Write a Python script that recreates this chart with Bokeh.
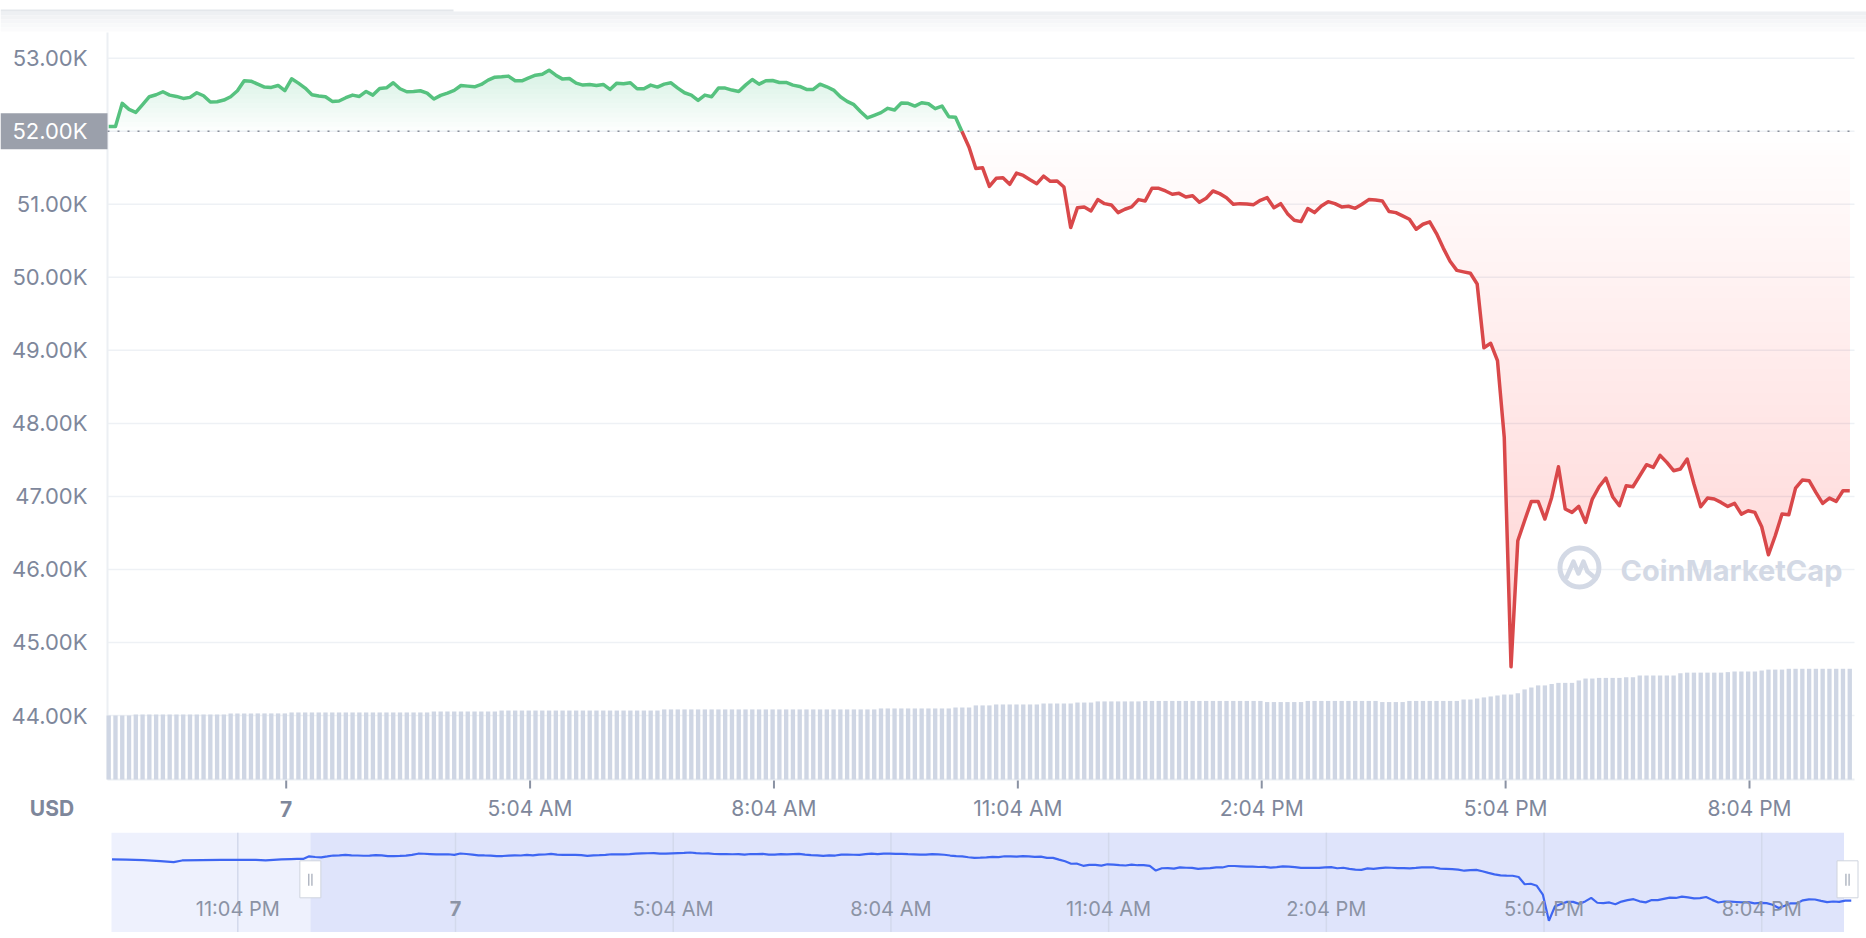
import numpy as np
import pandas as pd
from bokeh.plotting import figure
from bokeh.models import Range1d
from bokeh.layouts import column
from bokeh.embed import file_html
from bokeh.resources import INLINE
from bokeh.core.properties import value

# ---------------- data ----------------
start_time = "2021-09-06 23:53"          # first 5-minute sample
baseline_price = 52000                   # opening price (dotted line)

prices = [
    52064, 52064, 52382, 52300, 52259, 52364, 52473, 52500, 52541, 52495,
    52477, 52450, 52464, 52527, 52486, 52400, 52405, 52427, 52473, 52555,
    52691, 52686, 52645, 52605, 52600, 52627, 52555, 52718, 52659, 52591,
    52500, 52482, 52473, 52409, 52414, 52459, 52495, 52477, 52545, 52495,
    52586, 52595, 52664, 52582, 52541, 52545, 52555, 52523, 52441, 52491,
    52523, 52559, 52627, 52618, 52609, 52641, 52700, 52741, 52745, 52755,
    52691, 52691, 52732, 52768, 52782, 52836, 52768, 52714, 52723, 52659,
    52632, 52641, 52627, 52641, 52573, 52659, 52650, 52664, 52582, 52582,
    52632, 52605, 52645, 52664, 52591, 52527, 52495, 52423, 52495, 52473,
    52591, 52591, 52564, 52545, 52632, 52709, 52645, 52691, 52695, 52668,
    52668, 52632, 52614, 52573, 52573, 52645, 52609, 52564, 52473, 52409,
    52364, 52268, 52182, 52218, 52255, 52314, 52291, 52386, 52382, 52345,
    52391, 52377, 52309, 52345, 52200, 52191, 51986, 51782, 51491, 51500,
    51246, 51355, 51364, 51273, 51427, 51395, 51336, 51282, 51386, 51314,
    51319, 51237, 50681, 50954, 50964, 50909, 51064, 51009, 50991, 50886,
    50932, 50964, 51064, 51046, 51219, 51219, 51182, 51137, 51150, 51100,
    51118, 51027, 51082, 51182, 51146, 51091, 51000, 51009, 51005, 50995,
    51055, 51091, 50954, 51009, 50872, 50781, 50763, 50941, 50886, 50977,
    51036, 51009, 50964, 50973, 50945, 51000, 51064, 51059, 51046, 50900,
    50886, 50841, 50795, 50658, 50727, 50759, 50599, 50400, 50220, 50095,
    50074, 50055, 49908, 49036, 49096, 48858, 47808, 44667, 46393, 46667,
    46932, 46932, 46690, 46986, 47406, 46827, 46781, 46863, 46644, 46964,
    47132, 47251, 46996, 46872, 47146, 47132, 47283, 47434, 47397, 47562,
    47466, 47352, 47375, 47512, 47169, 46859, 46977, 46964, 46918, 46863,
    46904, 46758, 46804, 46781, 46585, 46201, 46461, 46758, 46749, 47114,
    47224, 47215, 47055, 46904, 46977, 46932, 47078, 47078,
]

# 24h volume (billions USD), one bar per sample
volumes = [
    40.0, 40.0, 40.0, 40.0, 40.6, 40.6, 40.6, 40.6, 40.6, 40.6,
    40.6, 40.6, 40.6, 40.6, 40.6, 40.6, 40.6, 40.6, 41.3, 41.3,
    41.3, 41.3, 41.3, 41.3, 41.3, 41.3, 41.3, 41.9, 41.9, 41.9,
    41.9, 41.9, 41.9, 41.9, 41.9, 41.9, 41.9, 41.9, 41.9, 41.9,
    41.9, 41.9, 41.9, 41.9, 41.9, 41.9, 41.9, 41.9, 42.5, 42.5,
    42.5, 42.5, 42.5, 42.5, 42.5, 42.5, 42.5, 42.5, 43.1, 43.1,
    43.1, 43.1, 43.1, 43.1, 43.1, 43.1, 43.1, 43.1, 43.1, 43.1,
    43.1, 43.1, 43.1, 43.1, 43.1, 43.1, 43.1, 43.1, 43.1, 43.1,
    43.1, 43.1, 43.8, 43.8, 43.8, 43.8, 43.8, 43.8, 43.8, 43.8,
    43.8, 43.8, 43.8, 43.8, 43.8, 43.8, 43.8, 43.8, 43.8, 43.8,
    43.8, 43.8, 43.8, 43.8, 43.8, 43.8, 43.8, 43.8, 43.8, 43.8,
    43.8, 43.8, 43.8, 43.8, 44.4, 44.4, 44.4, 44.4, 44.4, 44.4,
    44.4, 44.4, 44.4, 44.4, 44.4, 45.0, 45.0, 45.0, 46.3, 46.3,
    46.3, 46.9, 46.9, 46.9, 46.9, 46.9, 46.9, 46.9, 47.5, 47.5,
    47.5, 47.5, 47.5, 48.1, 48.1, 48.1, 48.8, 48.8, 48.8, 48.8,
    48.8, 48.8, 48.8, 49.1, 49.1, 49.1, 49.1, 49.1, 49.1, 49.1,
    49.1, 49.1, 49.1, 49.1, 49.1, 49.1, 49.1, 49.1, 49.1, 49.1,
    49.1, 48.4, 48.4, 48.4, 48.4, 48.4, 48.4, 49.1, 49.1, 49.1,
    49.1, 49.1, 49.1, 49.1, 49.1, 49.1, 49.1, 49.1, 48.4, 48.4,
    48.4, 48.4, 49.1, 49.1, 49.1, 49.1, 49.1, 49.1, 49.1, 49.1,
    50.0, 50.0, 50.6, 51.3, 51.9, 52.5, 53.1, 53.1, 53.9, 56.3,
    57.5, 58.8, 58.8, 59.7, 60.4, 60.4, 60.4, 61.9, 63.1, 63.1,
    63.5, 63.5, 63.5, 63.5, 63.9, 63.9, 65.0, 65.0, 65.0, 65.0,
    65.0, 65.0, 66.4, 66.8, 66.8, 66.8, 66.8, 66.8, 66.8, 67.1,
    67.5, 67.5, 67.5, 67.5, 68.1, 68.7, 68.7, 68.7, 69.2, 69.2,
    69.2, 69.2, 69.2, 69.2, 69.2, 69.2, 69.2, 69.2,
]

y_ticks = [44000, 45000, 46000, 47000, 48000, 49000, 50000, 51000, 52000, 53000]
x_tick_times = ["02:04", "05:04", "08:04", "11:04", "14:04", "17:04", "20:04"]
x_tick_labels = ["7", "5:04 AM", "8:04 AM", "11:04 AM", "2:04 PM", "5:04 PM", "8:04 PM"]
currency_label = "USD"

# navigator: earlier part of the 24h window (before the main view)
nav_pre_times = ["2021-09-06 21:20", "2021-09-06 21:32", "2021-09-06 21:46", "2021-09-06 22:00",
                 "2021-09-06 22:11", "2021-09-06 22:18", "2021-09-06 22:34", "2021-09-06 22:50",
                 "2021-09-06 23:05", "2021-09-06 23:19", "2021-09-06 23:27", "2021-09-06 23:40",
                 "2021-09-06 23:48"]
nav_pre_prices = [52003, 51990, 51923, 51800, 51684, 51883, 51930, 51950, 51963, 51950,
                  51883, 52003, 52043]
nav_tick_times = ["2021-09-06 23:04", "2021-09-07 02:04", "2021-09-07 05:04", "2021-09-07 08:04",
                  "2021-09-07 11:04", "2021-09-07 14:04", "2021-09-07 17:04", "2021-09-07 20:04"]
nav_tick_labels = ["11:04 PM", "7", "5:04 AM", "8:04 AM", "11:04 AM", "2:04 PM", "5:04 PM", "8:04 PM"]
nav_sel_start = "2021-09-07 00:04"
nav_sel_end = "2021-09-07 21:12"

# ---------------- helpers ----------------
midnight = pd.Timestamp("2021-09-07 00:00")


def to_min(ts):
    return (pd.to_datetime(ts) - midnight) / pd.Timedelta(minutes=1)


times = pd.date_range(start_time, periods=len(prices), freq="5min")
xm = np.asarray(to_min(times), dtype=float)
pr = np.asarray(prices, dtype=float)
tick_x = [float(to_min("2021-09-07 " + t)) for t in x_tick_times]


def with_crossings(x, y, levels):
    """Insert the points where the polyline crosses given levels (exact geometry)."""
    xs, ys = [x[0]], [y[0]]
    for k in range(len(x) - 1):
        x1, x2, y1, y2 = x[k], x[k + 1], y[k], y[k + 1]
        cr = []
        for L in levels:
            if (y1 - L) * (y2 - L) < 0:
                t = (L - y1) / (y2 - y1)
                cr.append((x1 + t * (x2 - x1), L))
        cr.sort()
        for cx, cy in cr:
            xs.append(cx)
            ys.append(cy)
        xs.append(x2)
        ys.append(y2)
    return np.array(xs), np.array(ys)


FONT = "Inter"
GRAY = "#7e879b"
GREEN = "#56c27f"
RED = "#d9484a"
GRID = "#eef1f5"

# ---- canvas layout (pixels) -> data coordinates ----
W, H = 1866, 832
PX_MIN = 1.3549            # pixels per minute
PX_UNIT = 0.07303          # pixels per USD


def mx(px):
    return 124 + (px - 285.7) / PX_MIN


def my(px):
    return 44000 + (715 - px) / PX_UNIT


X0, X1 = mx(107), mx(1854)          # plot area
Y0, Y1 = my(779), my(32)

p = figure(width=W, height=H, x_range=Range1d(mx(0), mx(W)), y_range=Range1d(my(H), my(0)),
           output_backend="svg", toolbar_location=None, x_axis_location=None, y_axis_location=None,
           min_border=0, min_border_left=0, min_border_right=0, min_border_top=0, min_border_bottom=0)
p.outline_line_color = None
p.xgrid.visible = False
p.ygrid.visible = False
p.background_fill_color = "white"
p.border_fill_color = "white"

# header shadow (page chrome)
for k, c in enumerate(["#eef0f3", "#f2f3f5", "#f5f6f8", "#f8f9fa", "#fbfbfc"]):
    p.quad(left=[mx(0)], right=[mx(W)], top=[my(11 + 4 * k)], bottom=[my(15 + 4 * k)],
           fill_color=c, line_color=None)
p.segment(x0=[mx(0)], y0=[my(10)], x1=[mx(453)], y1=[my(10)], line_color="#e4e7eb", line_width=2)

# horizontal grid + axis lines
p.segment(x0=[X0] * len(y_ticks), y0=y_ticks, x1=[X1] * len(y_ticks), y1=y_ticks,
          line_color=GRID, line_width=1.5)
p.segment(x0=[X0], y0=[Y0], x1=[X0], y1=[Y1], line_color="#eceff3", line_width=2)
p.segment(x0=[X0], y0=[Y0], x1=[X1], y1=[Y0], line_color="#eceff3", line_width=2)

# y tick labels
ylab = [t for t in y_ticks if t != baseline_price]
p.text([mx(87)] * len(ylab), ylab, text=[f"{t/1000:.2f}K" for t in ylab],
       text_font=value(FONT), text_font_size=value("22px"), text_color=GRAY,
       text_align="right", text_baseline="middle")

# x ticks + labels
p.segment(x0=tick_x, y0=[my(780)] * len(tick_x), x1=tick_x, y1=[my(788)] * len(tick_x),
          line_color="#8a92a3", line_width=2)
LAB_Y = my(808)
reg = [i for i, l in enumerate(x_tick_labels) if l != "7"]
p.text([tick_x[i] for i in reg], [LAB_Y] * len(reg), text=[x_tick_labels[i] for i in reg],
       text_font=value(FONT), text_font_size=value("21px"), text_color=GRAY,
       text_align="center", text_baseline="middle")
day = [i for i, l in enumerate(x_tick_labels) if l == "7"]
p.text([tick_x[i] for i in day], [LAB_Y] * len(day), text=[x_tick_labels[i] for i in day],
       text_font=value(FONT), text_font_style="bold", text_font_size=value("21px"), text_color=GRAY,
       text_align="center", text_baseline="middle")
p.text([mx(51.5)], [LAB_Y], text=[currency_label], text_font=value(FONT), text_font_style="bold",
       text_font_size=value("21px"), text_color=GRAY, text_align="center", text_baseline="middle")

# watermark (decoration)
wm_x, wm_y = 1078.5, 46026
p.scatter([wm_x], [wm_y], marker="circle", size=39, fill_color=None, line_color="#d3d9e5", line_width=5)
zig_dx = np.array([-13, -6, -1, 4, 8, 14]) / PX_MIN
zig_dy = np.array([10, -6, 6, -6, 4, 9]) / PX_UNIT
p.line(wm_x + zig_dx, wm_y - zig_dy, line_color="#d3d9e5", line_width=4.5, line_join="round", line_cap="round")
p.text([1108.8], [45985], text=["CoinMarketCap"], text_font=value(FONT), text_font_style="bold",
       text_font_size=value("29px"), text_color="#d3d9e5", text_baseline="middle", text_align="left")

# gradient fills (nested layers, strongest far from the baseline)
pmin, pmax = pr.min(), pr.max()
red_levels = list(np.linspace(baseline_price, pmin, 46)[1:])
green_levels = list(np.linspace(baseline_price, pmax, 14)[1:])
xd, yd = with_crossings(xm, pr, red_levels + green_levels + [baseline_price])

n_r = len(red_levels)
a_r = 1 - (1 - 0.34) ** (1.0 / n_r)
for L in [baseline_price] + red_levels[:-1]:
    p.varea(x=xd, y1=np.minimum(yd, L), y2=L, fill_color=RED, fill_alpha=a_r)
n_g = len(green_levels)
a_g = 1 - (1 - 0.2) ** (1.0 / n_g)
for L in [baseline_price] + green_levels[:-1]:
    p.varea(x=xd, y1=L, y2=np.maximum(yd, L), fill_color=GREEN, fill_alpha=a_g)

# volume bars (own scale: 1.6 px per billion, zero at the plot bottom)
p.extra_y_ranges = {"vol": Range1d(-(H - 779) / 1.6, 779 / 1.6)}
p.vbar(x=xm, width=3.2, top=volumes, bottom=0, y_range_name="vol",
       fill_color="#cfd6e4", line_color=None)

# baseline dotted line
p.segment(x0=[X0], y0=[baseline_price], x1=[X1], y1=[baseline_price], line_color="#8a909b",
          line_dash="2 8", line_width=1.6)

# price line, green above / red below the baseline
xb, yb = with_crossings(xm, pr, [baseline_price])
yg = np.where(yb >= baseline_price, yb, np.nan)
yr = np.where(yb <= baseline_price, yb, np.nan)
p.line(xb, yg, line_color=GREEN, line_width=3.5, line_join="round")
p.line(xb, yr, line_color=RED, line_width=3.5, line_join="round")

# current-reference price tag on the left
p.rect([(mx(0) + X0) / 2], [baseline_price], width=X0 - mx(0), height=36, height_units="screen",
       fill_color="#9ba0ab", line_color=None)
p.text([mx(87)], [baseline_price], text=[f"{baseline_price/1000:.2f}K"], text_font=value(FONT),
       text_font_size=value("22px"), text_color="white", text_align="right", text_baseline="middle")

# ---------------- navigator ----------------
NPX_MIN = 1.2095           # navigator pixels per minute


def nx(px):
    return 124 + (px - 455) / NPX_MIN


NA, NB = nx(111), nx(W)    # navigator band
NY0, NY1 = 43267, 55228
nav = figure(width=W, height=100, x_range=Range1d(nx(0), nx(W)), y_range=Range1d(NY0, NY1),
             output_backend="svg", toolbar_location=None, x_axis_location=None, y_axis_location=None,
             min_border=0, min_border_left=0, min_border_right=0, min_border_top=0, min_border_bottom=0)
nav.outline_line_color = None
nav.xgrid.visible = False
nav.ygrid.visible = False
nav.background_fill_color = "white"
nav.border_fill_color = "white"

sel0 = float(to_min(nav_sel_start))
sel1 = float(to_min(nav_sel_end))
nav.quad(left=[NA], right=[sel0], bottom=[NY0], top=[NY1], fill_color="#eef1fd", line_color=None)
nav.quad(left=[sel0], right=[sel1], bottom=[NY0], top=[NY1], fill_color="#dfe4fb", line_color=None)

ntx = [float(to_min(t)) for t in nav_tick_times]
nav.segment(x0=ntx, y0=[NY0] * len(ntx), x1=ntx, y1=[NY1] * len(ntx),
            line_color="#d3d9ec", line_width=1.5)

nav_x = np.concatenate([np.asarray(to_min(nav_pre_times), dtype=float), xm])
nav_y = np.concatenate([np.asarray(nav_pre_prices, dtype=float), pr])
nav.line(nav_x, nav_y, line_color="#3e66f2", line_width=2.2)

nreg = [i for i, l in enumerate(nav_tick_labels) if l != "7"]
nday = [i for i, l in enumerate(nav_tick_labels) if l == "7"]
nav.text([ntx[i] for i in nreg], [46102] * len(nreg), text=[nav_tick_labels[i] for i in nreg],
         text_font=value(FONT), text_font_size=value("20px"), text_color="#8b93a5",
         text_align="center", text_baseline="middle")
nav.text([ntx[i] for i in nday], [46102] * len(nday), text=[nav_tick_labels[i] for i in nday],
         text_font=value(FONT), text_font_style="bold", text_font_size=value("20px"),
         text_color="#8b93a5", text_align="center", text_baseline="middle")

# handles
for hx in [sel0, 1274.9]:
    nav.rect([hx], [49630], width=21, height=37, width_units="screen", height_units="screen",
             fill_color="white", line_color="#cfd4de", line_width=1)
    nav.segment(x0=[hx - 1.3, hx + 1.3], y0=[50290, 50290], x1=[hx - 1.3, hx + 1.3], y1=[48850, 48850],
                line_color="#a0a7b5", line_width=1.2)

layout = column(p, nav, spacing=0)
open("out.html", "w").write(file_html(layout, INLINE))
